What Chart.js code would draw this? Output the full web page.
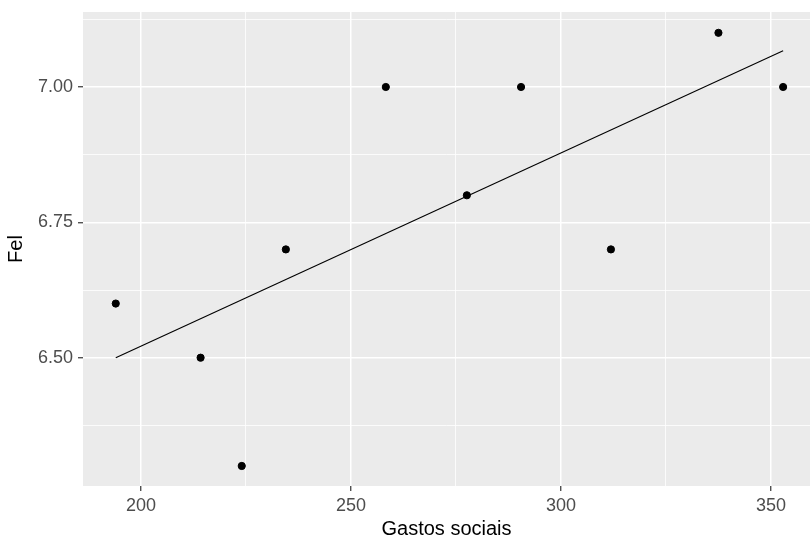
<!DOCTYPE html>
<html lang="pt">
<head>
  <meta charset="UTF-8">
  <title>Fel vs Gastos sociais</title>
  <script src="https://cdn.jsdelivr.net/npm/chart.js"></script>
  <style>
    html, body { margin: 0; padding: 0; background: #fff; overflow: hidden; }
    #wrap { width: 810px; height: 539px; }
  </style>
</head>
<body>
  <div id="wrap"><canvas id="chart"></canvas></div>
  <script>
    const gastos = [194.0, 214.2, 224.0, 234.5, 258.3, 277.6, 290.5, 311.9, 337.5, 352.9];
    const fel    = [6.6, 6.5, 6.3, 6.7, 7.0, 6.8, 7.0, 6.7, 7.1, 7.0];

    // Fitted line end points
    const lineX = [194.0, 352.9];
    const lineY = [6.50, 7.067];

    // Axis ranges and ticks
    const xRange = [186.2, 359.3];
    const yRange = [6.263, 7.1385];
    const xTicks = [200, 225, 250, 275, 300, 325, 350];
    const xLabels = [200, 250, 300, 350];
    const yTicks = [6.375, 6.5, 6.625, 6.75, 6.875, 7.0, 7.125];
    const yLabels = [6.5, 6.75, 7.0];

    const fontFamily = 'Liberation Sans, Arial, sans-serif';
    const isMajor = (list, v) => list.some(t => Math.abs(t - v) < 1e-6);

    // grey ggplot-style panel
    const panelBg = {
      id: 'panelBg',
      beforeDraw(chart) {
        const a = chart.chartArea;
        const ctx = chart.ctx;
        ctx.save();
        ctx.fillStyle = '#EBEBEB';
        ctx.fillRect(a.left, a.top, a.right - a.left, a.bottom - a.top);
        ctx.restore();
      }
    };

    function gridFor(labels) {
      return {
        color: '#FFFFFF',
        lineWidth: c => isMajor(labels, c.tick.value) ? 1.5 : 0.8,
        tickColor: c => isMajor(labels, c.tick.value) ? '#333333' : 'rgba(0,0,0,0)',
        tickWidth: 1.2,
        tickLength: 5,
        drawTicks: true
      };
    }

    new Chart(document.getElementById('chart'), {
      type: 'scatter',
      data: {
        datasets: [
          {
            label: 'Fel',
            data: gastos.map((x, i) => ({ x: x, y: fel[i] })),
            backgroundColor: '#000000',
            borderColor: '#000000',
            pointRadius: 3.6,
            pointHoverRadius: 3.6
          },
          {
            label: 'fit',
            type: 'line',
            data: lineX.map((x, i) => ({ x: x, y: lineY[i] })),
            borderColor: '#000000',
            borderWidth: 1.1,
            pointRadius: 0,
            fill: false
          }
        ]
      },
      options: {
        responsive: true,
        maintainAspectRatio: false,
        animation: false,
        // the panel runs to the right edge of the picture
        layout: { autoPadding: false, padding: { top: 12, right: 0, left: 0, bottom: 0 } },
        plugins: {
          legend: { display: false },
          tooltip: { enabled: false }
        },
        scales: {
          x: {
            type: 'linear',
            min: xRange[0],
            max: xRange[1],
            afterBuildTicks: s => { s.ticks = xTicks.map(v => ({ value: v })); },
            afterFit: s => { s.height = 53; s.paddingLeft = 0; s.paddingRight = 0; },
            grid: gridFor(xLabels),
            border: { display: false },
            ticks: {
              autoSkip: false,
              maxRotation: 0,
              padding: 4,
              color: '#4D4D4D',
              font: { family: fontFamily, size: 18 },
              callback: v => isMajor(xLabels, v) ? String(v) : ''
            },
            title: {
              display: true,
              text: 'Gastos sociais',
              color: '#000000',
              font: { family: fontFamily, size: 20, lineHeight: 1 },
              padding: { top: 0, bottom: 0 }
            }
          },
          y: {
            type: 'linear',
            min: yRange[0],
            max: yRange[1],
            afterBuildTicks: s => { s.ticks = yTicks.map(v => ({ value: v })); },
            afterFit: s => { s.width = 83; s.paddingTop = 0; s.paddingBottom = 0; },
            grid: gridFor(yLabels),
            border: { display: false },
            ticks: {
              autoSkip: false,
              padding: 5,
              color: '#4D4D4D',
              font: { family: fontFamily, size: 18 },
              callback: v => isMajor(yLabels, v) ? v.toFixed(2) : ''
            },
            title: {
              display: true,
              text: 'Fel',
              color: '#000000',
              font: { family: fontFamily, size: 20, lineHeight: 1 },
              padding: { top: 6, bottom: 0 }
            }
          }
        }
      },
      plugins: [panelBg]
    });
  </script>
</body>
</html>
